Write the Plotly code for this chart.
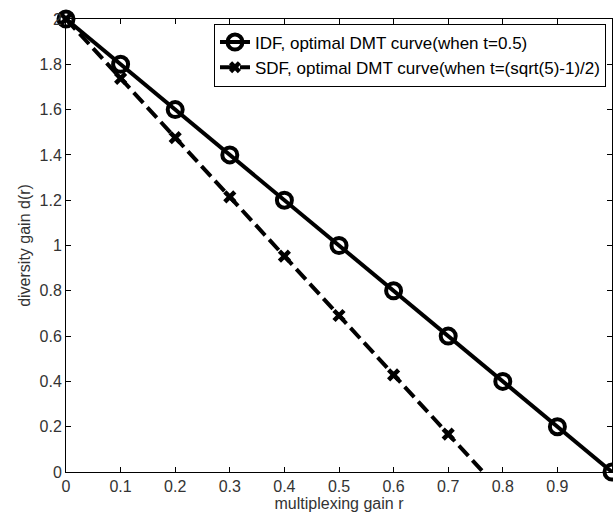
import plotly.graph_objects as go

idf_r = [0, 0.1, 0.2, 0.3, 0.4, 0.5, 0.6, 0.7, 0.8, 0.9, 1.0]
idf_d = [2.0, 1.8, 1.6, 1.4, 1.2, 1.0, 0.8, 0.6, 0.4, 0.2, 0.0]

sdf_r = [0, 0.1, 0.2, 0.3, 0.4, 0.5, 0.6, 0.7, 0.764]
sdf_d = [2.0, 1.738, 1.476, 1.215, 0.953, 0.691, 0.429, 0.167, 0.0]
sdf_marker_sizes = [10, 10, 10, 10, 10, 10, 10, 10, 0]

x_ticks = [0, 0.1, 0.2, 0.3, 0.4, 0.5, 0.6, 0.7, 0.8, 0.9, 1]
x_labels = ["0", "0.1", "0.2", "0.3", "0.4", "0.5", "0.6", "0.7", "0.8", "0.9", "1"]
y_ticks = [0, 0.2, 0.4, 0.6, 0.8, 1, 1.2, 1.4, 1.6, 1.8, 2]
y_labels = ["0", "0.2", "0.4", "0.6", "0.8", "1", "1.2", "1.4", "1.6", "1.8", "2"]

fig = go.Figure()
fig.add_trace(go.Scatter(
    x=idf_r, y=idf_d, mode="lines+markers",
    name="IDF, optimal DMT curve(when t=0.5)",
    line=dict(color="black", width=4),
    marker=dict(symbol="circle-open", size=15, color="black", opacity=1,
                line=dict(width=4, color="black")),
    cliponaxis=False,
))
fig.add_trace(go.Scatter(
    x=sdf_r, y=sdf_d, mode="lines+markers",
    name="SDF, optimal DMT curve(when t=(sqrt(5)-1)/2)",
    line=dict(color="black", width=4, dash="14px,6px"),
    marker=dict(symbol="x-thin-open", size=sdf_marker_sizes, color="black", opacity=1,
                line=dict(width=4.5, color="black")),
    cliponaxis=False,
))

axis_common = dict(
    showgrid=False, zeroline=False, showline=True, linecolor="black", linewidth=1,
    mirror="ticks", ticks="inside", ticklen=5, tickcolor="black",
    tickfont=dict(family="Liberation Sans, Arial, sans-serif", size=16, color="#333"),
    automargin=False,
)

fig.update_layout(
    width=613, height=517,
    margin=dict(l=66, r=1, t=19, b=45),
    paper_bgcolor="white", plot_bgcolor="white",
    font=dict(family="Liberation Sans, Arial, sans-serif", size=15, color="#333"),
    xaxis=dict(range=[0, 1], tickvals=x_ticks, ticktext=x_labels,
               title=dict(text="multiplexing gain r", font=dict(size=16, color="#333"), standoff=2),
               **axis_common),
    yaxis=dict(range=[0, 2], tickvals=y_ticks, ticktext=y_labels,
               title=dict(text="diversity gain d(r)", font=dict(size=16, color="#333"), standoff=4),
               **axis_common),
    legend=dict(x=0.989, y=0.99, xanchor="right", yanchor="top",
                bgcolor="white", bordercolor="black", borderwidth=1,
                font=dict(size=17, color="black"), tracegroupgap=0),
    showlegend=True,
)

fig.write_html("out.html", config={"displayModeBar": False},
               post_script="document.body.style.margin='0';document.body.style.padding='0';")
